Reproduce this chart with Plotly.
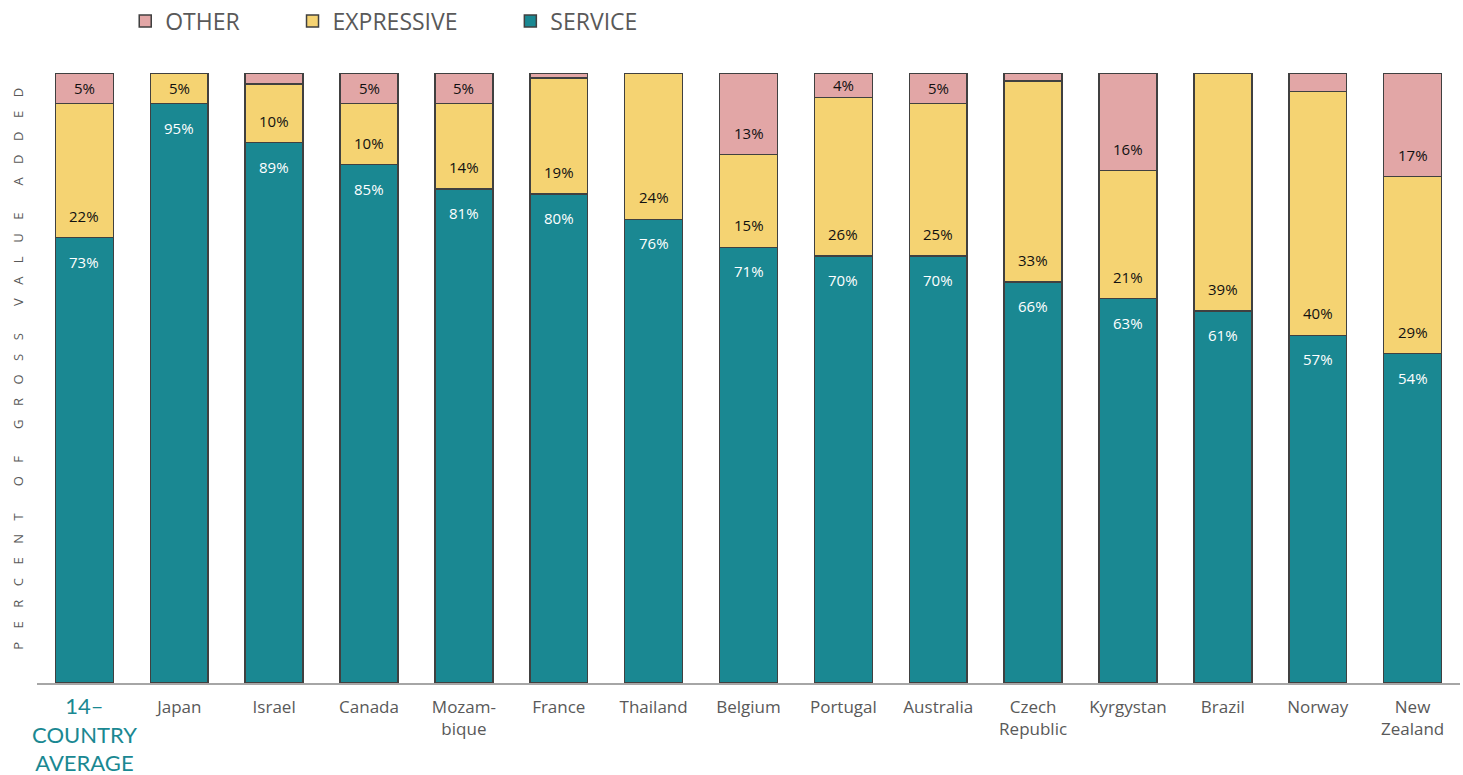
import plotly.graph_objects as go

categories = ["14–<br>COUNTRY<br>AVERAGE", "Japan", "Israel", "Canada", "Mozam-<br>bique",
              "France", "Thailand", "Belgium", "Portugal", "Australia", "Czech<br>Republic",
              "Kyrgystan", "Brazil", "Norway", "New<br>Zealand"]
service = [73, 95, 88.6, 85, 81, 80.2, 76, 71.4, 70, 70, 65.7, 63, 61, 57, 54]
expressive = [22, 5, 9.6, 10, 14, 19, 24, 15.2, 26, 25, 33, 21, 39, 40, 29]
other = [5, 0, 1.8, 5, 5, 0.8, 0, 13.4, 4, 5, 1.3, 16, 0, 3, 17]
series_names = ["SERVICE", "EXPRESSIVE", "OTHER"]
y_title = "PERCENT OF GROSS VALUE ADDED"

colors = {"SERVICE": "#1A8892", "EXPRESSIVE": "#F5D372", "OTHER": "#E2A6A6"}
outline = "#404040"
W, H = 1463, 775
ML, MR, MT, MB = 37, 3, 73, 92
PX_PER_UNIT = (H - MT - MB) / 100.0
LABEL_FONT = dict(family="Open Sans", size=15)
nb = "\u00a0"

fig = go.Figure()
for name, vals in zip(series_names, [service, expressive, other]):
    fig.add_trace(go.Bar(
        x=categories, y=vals, name=name + nb * 8,
        marker=dict(color=colors[name], line=dict(color=outline, width=1.5)),
        hoverinfo="skip",
    ))

annotations = []
for i, cat in enumerate(categories):
    s, e, o = service[i], expressive[i], other[i]
    annotations.append(dict(x=cat, y=s, xref="x", yref="y", text=f"{s:.0f}%",
                            showarrow=False, yanchor="middle", yshift=-24,
                            font=dict(color="white", **LABEL_FONT)))
    for base, v in ((s, e), (s + e, o)):
        if v >= 3.5:
            shift = min(22, v * PX_PER_UNIT / 2)
            annotations.append(dict(x=cat, y=base, xref="x", yref="y", text=f"{v:.0f}%",
                                    showarrow=False, yanchor="middle", yshift=shift,
                                    font=dict(color="#111111", **LABEL_FONT)))

annotations.append(dict(x=categories[0], y=-0.011, xref="x", yref="paper", text=categories[0],
                        showarrow=False, yanchor="top", xanchor="center",
                        font=dict(family="Lato", size=22, color="#1A8892")))

spaced = (nb * 8).join((nb * 4).join(list(w)) for w in y_title.split(" "))
annotations.append(dict(x=-(ML - 18) / (W - ML - MR), y=0.515, xref="paper", yref="paper",
                        text=spaced, textangle=-90, showarrow=False,
                        xanchor="center", yanchor="middle",
                        font=dict(family="Open Sans", size=13, color="#595959")))

fig.update_layout(
    width=W, height=H,
    margin=dict(l=ML, r=MR, t=MT, b=MB, autoexpand=False),
    barmode="stack", bargap=0.39,
    plot_bgcolor="white", paper_bgcolor="white",
    showlegend=True,
    legend=dict(orientation="h", traceorder="reversed", x=0.062, y=1.085,
                xanchor="left", yanchor="middle",
                font=dict(family="Open Sans", size=23, color="#595959")),
    xaxis=dict(tickvals=categories, ticktext=[""] + categories[1:], showline=True,
               range=[-0.5, len(categories) - 0.5],
               linecolor="#A6A6A6", linewidth=1.5, ticks="", showgrid=False,
               automargin=False, ticklabelstandoff=8,
               tickfont=dict(family="Open Sans", size=17, color="#595959")),
    yaxis=dict(range=[0, 100], showticklabels=False, showgrid=False, zeroline=False,
               ticks="", showline=False, automargin=False),
    annotations=annotations,
)

fig.write_html("out.html", config={"displayModeBar": False},
               post_script="document.body.style.margin='0';")
